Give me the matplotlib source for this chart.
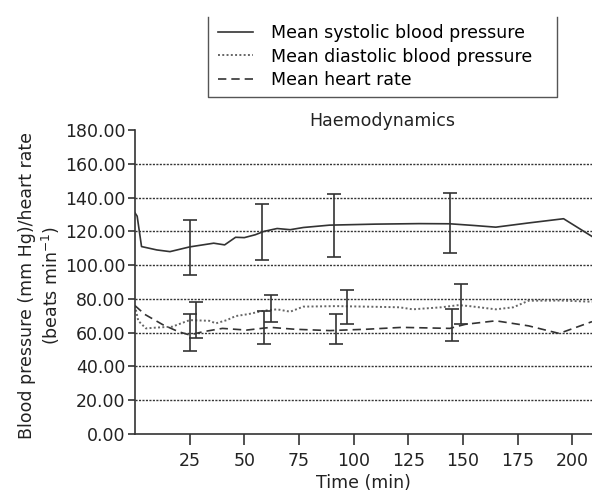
import numpy as np
import matplotlib.pyplot as plt
from matplotlib.lines import Line2D

plt.rcParams["font.family"] = ["DejaVu Sans"]
plt.rcParams["font.size"] = 12.5

# mean curves (time in min)
sys_t = [0, 1, 3, 10, 16, 25, 36, 41, 46, 50, 55, 59, 65, 71, 77, 89, 110, 130, 144, 155, 165, 180, 196, 209]
sys_v = [131, 129, 111, 109, 108, 110.8, 113, 112, 116.5, 116.3, 118, 120, 121.7, 121, 122.3, 123.7, 124.3, 124.6, 124.5, 123.5, 122.5, 125, 127.5, 117]

dia_t = [0, 1.5, 5, 10, 17, 25, 34, 37, 42, 46, 52, 59, 65, 71, 77, 92, 110, 121, 127, 140, 148, 153, 165, 173, 180, 195, 209]
dia_v = [76, 67, 62.5, 63, 63.5, 67.4, 67, 65.5, 67.4, 69.8, 71, 73, 73.8, 72.4, 75.4, 75.7, 75.3, 75, 73.8, 75, 76.3, 75.7, 73.8, 75, 78.9, 79, 78.3]

hr_t = [0, 4.5, 13, 20, 25, 31, 40, 51, 62, 73, 89, 106, 122, 144, 151, 165, 180, 194, 209]
hr_v = [76, 70.8, 64.5, 60.5, 58.6, 60.5, 62.5, 61.5, 63.1, 62, 61.2, 62, 63.1, 62.5, 64.9, 67, 64, 59.5, 66.5]

# error bars (low / high)
sys_bar_t = [25, 58, 91, 144]
sys_bar_lo = [94, 103, 105, 107]
sys_bar_hi = [127, 136, 142, 143]

dia_bar_t = [28, 62, 97, 149]
dia_bar_lo = [57, 66, 65, 65]
dia_bar_hi = [78, 82, 85, 89]

hr_bar_t = [25, 59, 92, 145]
hr_bar_lo = [49, 53, 53, 55]
hr_bar_hi = [71, 73, 71, 74]

ink = "#333333"
txt = "#222222"

fig = plt.figure(figsize=(5.92, 4.93), dpi=100)
ax = fig.add_axes([0.228, 0.12, 0.772, 0.616])

l1, = ax.plot(sys_t, sys_v, color=ink, lw=1.2, ls="-")
l2, = ax.plot(dia_t, dia_v, color="#666666", lw=1.4, ls=(0, (1, 1.2)))
l3, = ax.plot(hr_t, hr_v, color=ink, lw=1.2, ls=(0, (5, 3)))

for bt, lo, hi in [(sys_bar_t, sys_bar_lo, sys_bar_hi),
                   (dia_bar_t, dia_bar_lo, dia_bar_hi),
                   (hr_bar_t, hr_bar_lo, hr_bar_hi)]:
    lo = np.array(lo, float)
    hi = np.array(hi, float)
    ax.errorbar(bt, (lo + hi) / 2, yerr=(hi - lo) / 2, fmt="none",
                ecolor=ink, elinewidth=1.2, capsize=5, capthick=1.2)

ax.set_xlim(0, 209)
ax.set_ylim(0, 180)
ax.set_xticks([25, 50, 75, 100, 125, 150, 175, 200])
ax.set_yticks(np.arange(0, 181, 20))
ax.set_yticklabels([f"{v:.2f}" for v in np.arange(0, 181, 20)])
for v in range(20, 161, 20):
    ax.axhline(v, color=ink, lw=1.0, ls=(0, (1.5, 1)), zorder=0)

for s in ["top", "right"]:
    ax.spines[s].set_visible(False)
for s in ["left", "bottom"]:
    ax.spines[s].set_color(ink)
    ax.spines[s].set_linewidth(1.2)
ax.tick_params(axis="y", length=5, width=1.2, colors=ink, labelcolor=txt, pad=2)
ax.tick_params(axis="x", length=8, width=1.2, colors=ink, labelcolor=txt, pad=5)

ax.set_xlabel("Time (min)", color=txt, labelpad=3)
ax.set_ylabel("Blood pressure (mm Hg)/heart rate\n(beats min$^{-1}$)", color=txt)
ax.yaxis.set_label_coords(-0.16, 0.49)
ax.set_title("Haemodynamics", color=txt, x=0.54, pad=0, fontsize=12.5)

fig.legend([l1, l2, l3],
           ["Mean systolic blood pressure", "Mean diastolic blood pressure", "Mean heart rate"],
           loc="upper left", bbox_to_anchor=(218 / 592, 1 - 24 / 493), frameon=False,
           borderaxespad=0, borderpad=0,
           handlelength=2.0, handletextpad=1.05, labelspacing=0.32, fontsize=12.5)

# legend box (top edge cropped in the original)
bx0, bx1, by0, by1 = 208 / 592, 557 / 592, 1 - 97 / 493, 1 - 17 / 493
fig.add_artist(Line2D([bx0, bx0, bx1, bx1], [by1, by0, by0, by1],
                      transform=fig.transFigure, color="#555555", lw=1.0))

fig.savefig("out.png", dpi=100)
